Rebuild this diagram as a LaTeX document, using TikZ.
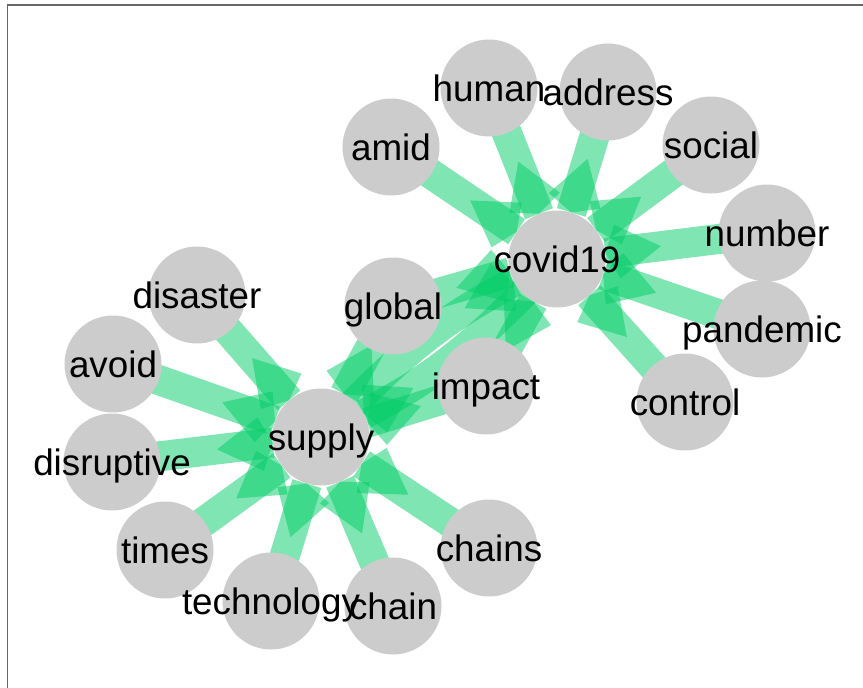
\documentclass[tikz,border=0pt]{standalone}
\usepackage{fontspec}
\setmainfont{Liberation Sans}
\usetikzlibrary{arrows.meta}
\definecolor{edgegreen}{HTML}{00CC66}
\definecolor{vgray}{HTML}{CCCCCC}
\definecolor{framegray}{HTML}{666666}
\pgfdeclarelayer{edgelayer}
\pgfsetlayers{edgelayer,main}
\pgfdeclarearrow{
  name=IgKite,
  setup code={
    \pgfarrowssettipend{0pt}
    \pgfarrowssetlineend{0pt}
    \pgfarrowssetbackend{-56pt}
    \pgfarrowshullpoint{0pt}{0pt}
    \pgfarrowshullpoint{-12pt}{27pt}
    \pgfarrowshullpoint{-12pt}{-27pt}
    \pgfarrowshullpoint{-56pt}{0pt}
  },
  drawing code={
    \pgfpathmoveto{\pgfqpoint{0pt}{0pt}}
    \pgfpathlineto{\pgfqpoint{-12pt}{27pt}}
    \pgfpathlineto{\pgfqpoint{-56pt}{0pt}}
    \pgfpathlineto{\pgfqpoint{-12pt}{-27pt}}
    \pgfpathclose
    \pgfusepathqfill
  }
}
\tikzset{
  vert/.style={circle, fill=vgray, minimum size=97pt, inner sep=0pt},
  lbl/.style={inner sep=0pt, text height=26.5pt, text depth=0pt, font=\fontsize{36.8}{40}\selectfont},
  edge/.style={draw=edgegreen, line width=30pt, opacity=0.5, -{IgKite}, shorten <=-30pt},
  frame/.style={draw=framegray, line width=1.5pt},
}
\begin{document}
\begin{tikzpicture}[x=1pt, y=-1pt]
\useasboundingbox (0,0) rectangle (863,688);
\draw[frame] (7.5,688) -- (7.5,5) -- (863,5);
% vertices
\node[vert] (covid19) at (557,259) {};
\node[vert] (supply) at (321,437) {};
\node[vert] (global) at (393,306) {};
\node[vert] (impact) at (486,386) {};
\node[vert] (amid) at (391,147) {};
\node[vert] (human) at (489,88) {};
\node[vert] (address) at (608,92) {};
\node[vert] (social) at (711,145) {};
\node[vert] (number) at (767,233) {};
\node[vert] (pandemic) at (762,329) {};
\node[vert] (control) at (685,402) {};
\node[vert] (disaster) at (197,295) {};
\node[vert] (avoid) at (113,364) {};
\node[vert] (disruptive) at (112,462) {};
\node[vert] (times) at (165,550) {};
\node[vert] (technology) at (271,601) {};
\node[vert] (chain) at (393,606) {};
\node[vert] (chains) at (489,548) {};
% edges
\begin{pgfonlayer}{edgelayer}
\foreach \s in {amid,human,address,social,number,pandemic,control,global,impact}
  \draw[edge] (\s) -- (covid19);
\foreach \s in {disaster,avoid,disruptive,times,technology,chain,chains,global,impact}
  \draw[edge] (\s) -- (supply);
\draw[edge] (supply) to[bend left=9] (covid19);
\draw[edge] (covid19) to[bend left=9] (supply);
\end{pgfonlayer}
% labels
\foreach \s in {covid19,supply,global,impact,amid,human,address,social,number,pandemic,control,disaster,avoid,disruptive,times,technology,chain,chains}
  \node[lbl] (\s-l) at (\s) {\s};
\end{tikzpicture}
\end{document}
